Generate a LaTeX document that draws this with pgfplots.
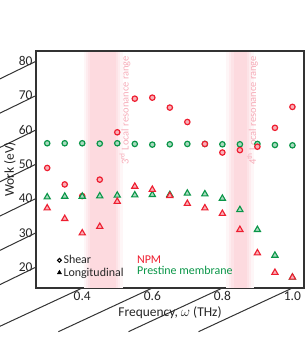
\documentclass[border=0pt]{standalone}
\usepackage{pgfplots}
\pgfplotsset{compat=1.18}
\usepackage{fontspec}
\setmainfont{Carlito}
\definecolor{npm}{RGB}{238,30,48}
\definecolor{pri}{RGB}{10,150,72}
\definecolor{bandc}{RGB}{253,218,223}
\definecolor{annc}{RGB}{246,172,184}
\pgfplotsset{legend image code/.code={\draw[mark repeat=2,mark phase=2,#1] plot coordinates {(0bp,0bp)(3bp,0bp)(6bp,0bp)};}}
\begin{document}
\begin{tikzpicture}
\useasboundingbox (-36bp,-51bp) rectangle (270bp,288bp);
\begin{axis}[
  at={(0,0)}, anchor=south west,
  width=268bp, height=237bp, scale only axis,
  xmin=0.268, xmax=1.033, ymin=13.9, ymax=83,
  xtick={0.4,0.6,0.8,1.0}, ytick={20,30,40,50,60,70,80},
  xticklabel style={/pgf/number format/.cd, fixed, fixed zerofill, precision=1},
  /pgf/number format/assume math mode=true,
  ticklabel style={font=\fontsize{13.5}{14}\selectfont, text=black!85},
  major tick length=0pt,
  axis line style={line width=1.4bp, draw=black!80},
  clip=false,
  xlabel={Frequency, $\omega$ (THz)},
  ylabel={Work (eV)},
  every axis x label/.style={at={(axis description cs:0.5,0)}, anchor=center, yshift=-25bp, font=\fontsize{13.5}{14}\selectfont, text=black!85},
  every axis y label/.style={at={([xshift=-26bp]axis description cs:0,0.5)}, rotate=90, anchor=center, font=\fontsize{13.5}{14}\selectfont, text=black!85},
  legend style={draw=none, fill=none, at={(axis description cs:0.079,0.035)}, anchor=south west, font=\fontsize{12}{12}\selectfont, row sep=-1.5bp, inner sep=0pt, text=black!85},
  legend cell align=left,
]
\fill[bandc!25] (axis cs:0.405,13.9) rectangle (axis cs:0.515,83);
\fill[bandc!50] (axis cs:0.411,13.9) rectangle (axis cs:0.509,83);
\fill[bandc!75] (axis cs:0.417,13.9) rectangle (axis cs:0.502,83);
\fill[bandc] (axis cs:0.423,13.9) rectangle (axis cs:0.495,83);
\fill[bandc!25] (axis cs:0.810,13.9) rectangle (axis cs:0.890,83);
\fill[bandc!50] (axis cs:0.818,13.9) rectangle (axis cs:0.883,83);
\fill[bandc!75] (axis cs:0.826,13.9) rectangle (axis cs:0.876,83);
\fill[bandc] (axis cs:0.834,13.9) rectangle (axis cs:0.870,83);
\node[rotate=90, anchor=west, text=annc, font=\fontsize{10.5}{11}\selectfont] at (axis cs:0.522,48.8) {3\textsuperscript{rd} Local resonance range};
\node[rotate=90, anchor=west, text=annc, font=\fontsize{10.5}{11}\selectfont] at (axis cs:0.886,48.8) {4\textsuperscript{th} Local resonance range};

\addlegendimage{only marks, mark=o, mark size=1.9bp, black, line width=1.1bp}
\addlegendentry{Shear}
\addlegendimage{only marks, mark=triangle*, mark size=2.4bp, black}
\addlegendentry{Longitudinal}

% Shear, pristine
\addplot[only marks, mark=*, mark size=2.7bp, mark options={draw=pri, fill=pri!35!white, line width=1.2bp}, forget plot] coordinates {
(0.30,56.1)(0.35,56.1)(0.40,56.1)(0.45,56.0)(0.50,56.1)(0.55,55.9)(0.60,55.7)(0.65,55.8)(0.70,55.9)(0.75,55.9)(0.80,55.8)(0.85,55.8)(0.90,55.9)(0.95,55.6)(1.00,55.5)};
% Shear, NPM
\addplot[only marks, mark=*, mark size=2.7bp, mark options={draw=npm, fill=npm!35!white, line width=1.2bp}, forget plot] coordinates {
(0.30,48.9)(0.35,44.1)(0.40,40.7)(0.45,45.5)(0.50,59.3)(0.55,69.1)(0.60,69.4)(0.65,66.5)(0.70,62.3)(0.75,55.9)(0.80,53.4)(0.85,54.1)(0.90,55.1)(0.95,60.6)(1.00,66.7)};
% Longitudinal, pristine
\addplot[only marks, mark=triangle*, mark size=3.6bp, mark options={draw=pri, fill=pri!35!white, line width=1.1bp}, forget plot] coordinates {
(0.30,40.4)(0.35,40.6)(0.40,40.6)(0.45,40.7)(0.50,40.9)(0.55,41.0)(0.60,41.1)(0.65,41.1)(0.70,41.5)(0.75,41.3)(0.80,40.0)(0.85,36.7)(0.90,30.9)(0.95,23.4)(1.00,17.0)};
% Longitudinal, NPM
\addplot[only marks, mark=triangle*, mark size=3.6bp, mark options={draw=npm, fill=npm!35!white, line width=1.1bp}, forget plot] coordinates {
(0.30,37.2)(0.35,34.1)(0.40,29.9)(0.45,31.8)(0.50,39.1)(0.55,43.5)(0.60,42.6)(0.65,40.8)(0.70,38.5)(0.75,37.2)(0.80,35.6)(0.85,30.9)(0.90,24.1)(0.95,18.4)(1.00,17.0)};

% frame and ticks
\draw[black!80, line width=1.4bp] (axis cs:0.268,83) -- (axis cs:1.033,83);
\draw[black!80, line width=1.4bp] (axis cs:1.033,83) -- (axis cs:1.033,13.9);
\pgfplotsinvokeforeach{20,30,40,50,60,70,80}{\draw[black!80, line width=1bp] (axis cs:0.268,#1) -- ++(-4bp,0);}
\pgfplotsinvokeforeach{0.4,0.6,0.8,1.0}{\draw[black!80, line width=1bp] (axis cs:#1,13.9) -- ++(0,4bp);}

\node[anchor=west, text=npm, font=\fontsize{12}{12}\selectfont, inner sep=0pt] at (axis cs:0.556,22.3) {NPM};
\node[anchor=west, text=pri, font=\fontsize{12}{12}\selectfont, inner sep=0pt] at (axis cs:0.556,18.9) {Prestine membrane};
\end{axis}
\end{tikzpicture}
\end{document}
